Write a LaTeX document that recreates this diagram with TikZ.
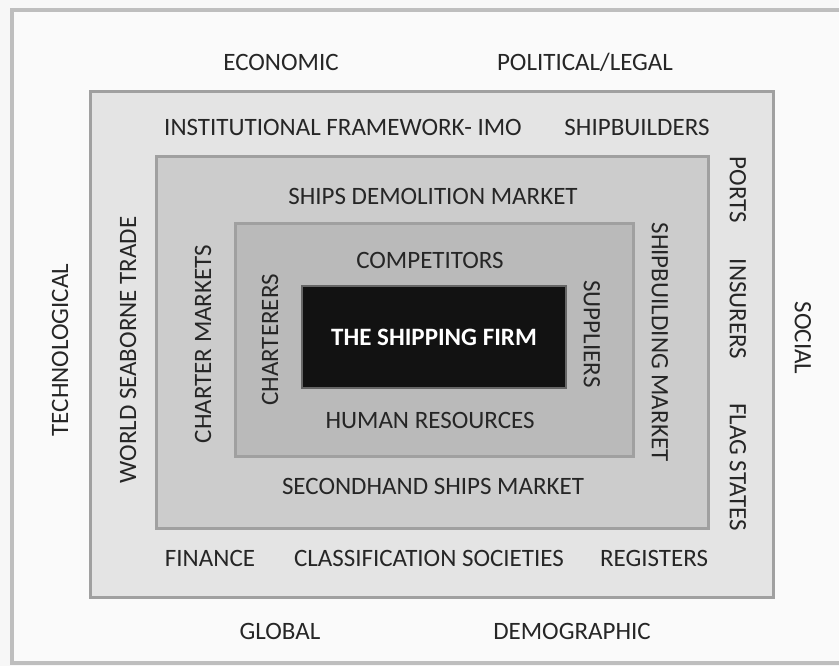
\documentclass[tikz,border=0pt]{standalone}
\usepackage{fontspec}
\setmainfont{Carlito}
\definecolor{frameline}{RGB}{190,190,190}
\definecolor{ringone}{RGB}{228,228,228}
\definecolor{ringtwo}{RGB}{204,204,204}
\definecolor{ringthree}{RGB}{186,186,186}
\definecolor{ringline}{RGB}{160,160,160}
\definecolor{firmfill}{RGB}{18,18,18}
\begin{document}
\begin{tikzpicture}[x=1pt,y=-1pt,line width=0.2pt,
    ring/.style={draw=ringline,line width=3pt,rectangle,inner sep=0pt},
    lbl/.style={font=\fontsize{25}{30}\selectfont,text=black!85,inner sep=0pt},
    up/.style={lbl,rotate=90},
    down/.style={lbl,rotate=-90}]

    \useasboundingbox (0,0) rectangle (839,666);
    \fill[white!97!black] (0,0) rectangle (839,666);

    % the nested boxes
    \draw[draw=frameline,line width=4pt,fill=white!98!black] (12,10) rectangle (850,663);
    \node [ring,fill=ringone,minimum width=683pt,minimum height=505pt] (env) at (431.5,344.5) {};
    \node [ring,fill=ringtwo,minimum width=552pt,minimum height=371pt] (mkt) at (432,342.5) {};
    \node [ring,fill=ringthree,minimum width=398pt,minimum height=232pt] (ops) at (434,340) {};
    \node [draw=black!60,line width=1.5pt,fill=firmfill,minimum width=264pt,minimum height=102pt] (firm) at (434,337) {};

    % outer ring
    \node [lbl] (economic) at (281,62) {ECONOMIC};
    \node [lbl] (political) at (585,62) {POLITICAL/LEGAL};
    \node [lbl] (global) at (280,631) {GLOBAL};
    \node [lbl] (demographic) at (572,631) {DEMOGRAPHIC};
    \node [up] (technological) at (60,350) {TECHNOLOGICAL};
    \node [down] (social) at (803,338) {SOCIAL};

    % first box
    \node [lbl] (imo) at (343,127) {INSTITUTIONAL FRAMEWORK- IMO};
    \node [lbl] (shipbuilders) at (637,127) {SHIPBUILDERS};
    \node [lbl] (finance) at (210,558) {FINANCE};
    \node [lbl] (classification) at (429,558) {CLASSIFICATION SOCIETIES};
    \node [lbl] (registers) at (654,558) {REGISTERS};
    \node [up] (trade) at (128,350) {WORLD SEABORNE TRADE};
    \node [down] (ports) at (738,190) {PORTS};
    \node [down] (insurers) at (738,309) {INSURERS};
    \node [down] (flags) at (738,467) {FLAG STATES};

    % second box
    \node [lbl] (demolition) at (433,196) {SHIPS DEMOLITION MARKET};
    \node [lbl] (secondhand) at (433,486) {SECONDHAND SHIPS MARKET};
    \node [up] (charter) at (203,344) {CHARTER MARKETS};
    \node [down] (shipbuilding) at (660,342) {SHIPBUILDING MARKET};

    % third box
    \node [lbl] (competitors) at (430,260) {COMPETITORS};
    \node [lbl] (human) at (430,420) {HUMAN RESOURCES};
    \node [up] (charterers) at (270,340) {CHARTERERS};
    \node [down] (suppliers) at (592,334) {SUPPLIERS};

    \node [lbl,text=white,font=\fontsize{25}{30}\selectfont\bfseries] (firmname) at (firm) {THE SHIPPING FIRM};

\end{tikzpicture}
\end{document}
